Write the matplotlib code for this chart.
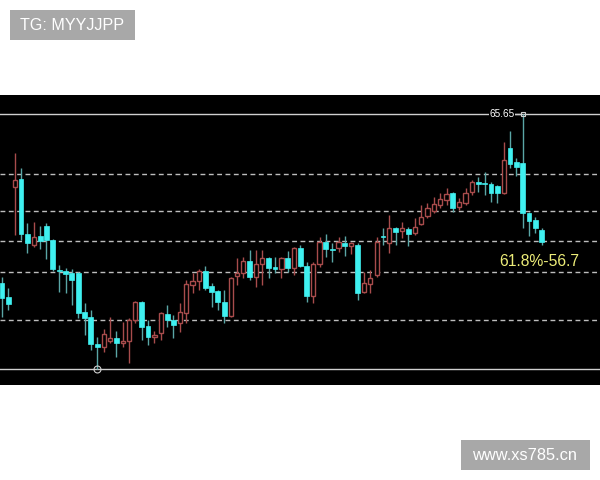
import matplotlib
matplotlib.use("Agg")
import matplotlib.pyplot as plt
from matplotlib.patches import Rectangle
import numpy as np

# ---- data ----
opens = [56.05, 55.25, 61.50, 61.95, 58.83, 58.20, 58.72, 59.28, 58.49, 56.78,
         56.73, 56.61, 56.61, 54.40, 54.11, 52.58, 52.41, 52.75, 52.92, 52.64,
         52.75, 53.94, 54.97, 53.60, 52.98, 53.21, 54.28, 53.94, 53.77, 54.34,
         55.93, 56.16, 56.73, 55.88, 55.59, 54.97, 54.17, 56.44, 56.61, 57.30,
         56.39, 57.13, 57.47, 56.96, 56.84, 57.47, 56.90, 58.04, 57.01, 55.31,
         57.13, 58.38, 57.98, 58.04, 58.32, 58.15, 58.20, 55.53, 55.99, 56.50,
         58.72, 58.32, 59.17, 59.00, 59.11, 58.89, 59.40, 59.85, 60.14, 60.48,
         60.76, 61.16, 60.36, 60.59, 61.21, 61.78, 61.73, 61.67, 61.56, 61.16,
         63.72, 62.92, 62.86, 60.02, 59.63, 59.06]
highs = [56.39, 55.76, 63.43, 62.58, 59.45, 59.51, 59.28, 59.45, 58.55, 57.07,
         56.90, 56.84, 56.67, 54.91, 54.51, 52.98, 53.43, 54.11, 53.32, 53.83,
         54.06, 55.02, 55.02, 53.94, 53.32, 54.40, 54.80, 54.23, 54.91, 56.22,
         56.61, 56.84, 57.01, 56.05, 55.65, 55.65, 56.39, 57.47, 57.52, 57.92,
         57.92, 57.92, 57.52, 57.52, 57.52, 57.87, 58.09, 58.20, 57.24, 57.24,
         58.66, 58.83, 58.32, 58.66, 58.72, 58.38, 58.32, 56.67, 56.79, 58.66,
         59.17, 59.91, 59.23, 59.51, 59.23, 59.74, 60.48, 60.59, 60.93, 61.16,
         61.44, 61.21, 60.87, 61.44, 61.90, 62.07, 62.35, 61.78, 61.62, 64.06,
         64.68, 63.15, 65.65, 60.08, 59.80, 59.17]
lows = [54.12, 54.51, 58.77, 58.49, 57.75, 58.09, 57.98, 57.41, 56.73, 55.53,
        55.48, 54.80, 54.06, 53.09, 52.24, 51.17, 52.13, 52.64, 51.84, 52.41,
        51.50, 53.77, 52.81, 52.52, 52.64, 52.81, 53.55, 52.92, 53.26, 53.77,
        55.48, 55.65, 55.65, 54.68, 54.51, 53.77, 54.11, 55.93, 56.33, 56.22,
        55.82, 55.93, 56.33, 56.61, 56.33, 56.67, 56.50, 56.96, 54.97, 54.91,
        56.96, 57.52, 57.24, 57.81, 57.58, 57.69, 55.09, 55.48, 55.48, 56.39,
        58.20, 57.75, 58.20, 58.60, 58.15, 58.77, 59.34, 59.74, 60.02, 60.31,
        60.48, 60.08, 60.19, 60.48, 61.04, 61.21, 61.04, 60.65, 60.59, 61.10,
        62.58, 62.12, 59.17, 58.72, 58.89, 58.20]
closes = [55.20, 54.85, 61.90, 58.83, 58.32, 58.66, 58.43, 58.49, 56.84, 56.73,
          56.56, 56.22, 54.34, 54.06, 52.58, 52.41, 53.15, 52.92, 52.64, 52.75,
          53.94, 54.97, 53.55, 52.98, 53.09, 54.34, 53.94, 53.66, 54.40, 55.99,
          56.16, 56.73, 55.76, 55.53, 54.97, 54.17, 56.33, 56.61, 57.30, 56.39,
          57.13, 57.47, 56.90, 56.84, 57.47, 56.90, 58.04, 57.01, 55.31, 57.13,
          58.38, 57.98, 57.92, 58.38, 58.15, 58.32, 55.48, 56.05, 56.33, 58.38,
          58.66, 59.17, 58.94, 59.17, 58.83, 59.23, 59.80, 60.31, 60.53, 60.82,
          61.10, 60.31, 60.65, 61.16, 61.78, 61.67, 61.67, 61.16, 61.16, 63.04,
          62.81, 62.64, 60.02, 59.57, 59.17, 58.38]

swing_high = 65.65
swing_low = 51.17
fib_ratios = [0.0, 0.236, 0.382, 0.5, 0.618, 0.809, 1.0]
fib_label = "61.8%-56.7"
high_label = "65.65"

# ---- figure ----
W, H = 600, 480
fig = plt.figure(figsize=(6, 4.8), dpi=100, facecolor="white")
ax = fig.add_axes([0, (H - 385) / H, 1, 290 / H])
ax.set_facecolor("black")
for s in ax.spines.values():
    s.set_visible(False)
ax.set_xticks([])
ax.set_yticks([])

n = len(opens)
x = np.arange(n)
ax.set_xlim(-0.315, 94.17)
ax.set_ylim(50.26, 66.73)

# fib lines
rng = swing_high - swing_low
for r in fib_ratios:
    lvl = swing_high - r * rng
    if r in (0.0, 1.0):
        ax.axhline(lvl, color="#cfcfcf", lw=1.0, zorder=1)
    else:
        ax.axhline(lvl, color="#bdbdbd", lw=1.0, ls=(0, (3.5, 2.5)), zorder=1)

up_col = "#a84c4c"
dn_col = "#3ff0f0"
dn_wick = "#5aa6a6"
bw = 0.76
for i in range(n):
    o, h, l, c = opens[i], highs[i], lows[i], closes[i]
    up = c >= o
    ax.vlines(x[i], l, h, color=up_col if up else dn_wick, lw=1.0, zorder=2)
    bot = min(o, c)
    ht = max(abs(c - o), 0.06)
    if up:
        ax.bar(x[i], ht, bottom=bot, width=bw - 0.1, facecolor="black",
               edgecolor=up_col, linewidth=1.0, zorder=3)
    else:
        ax.bar(x[i], ht, bottom=bot, width=bw, facecolor=dn_col,
               edgecolor=dn_col, linewidth=0.5, zorder=3)

# high / low markers
ih = int(np.argmax(highs))
il = int(np.argmin(lows))
ax.plot([x[ih]], [highs[ih]], marker="s", ms=3.5, mfc="none", mec="#cfcfcf", mew=0.8, zorder=5)
ax.plot([x[il]], [lows[il]], marker="o", ms=5, mfc="none", mec="#cfcfcf", mew=0.8, zorder=5)
ax.plot([x[ih] - 1.2, x[ih] - 0.3], [highs[ih]] * 2, color="#cfcfcf", lw=1.0, zorder=5)
ax.text(x[ih] - 1.3, highs[ih], high_label, color="white", fontsize=7.2,
        ha="right", va="center", family=["Liberation Sans", "DejaVu Sans"],
        bbox=dict(facecolor="black", edgecolor="none", pad=0.3), zorder=6)

fig.text(499 / W, 1 - 262 / H, fib_label, color="#ecec78", fontsize=11.3,
         ha="left", va="center", family=["Liberation Sans", "DejaVu Sans"])

# watermarks
fig.patches.append(Rectangle((10 / W, 1 - 40 / H), 125 / W, 30 / H,
                             transform=fig.transFigure, facecolor="#a8a8a8",
                             edgecolor="none"))
fig.text(20 / W, 1 - 25 / H, "TG: MYYJJPP", color="white", fontsize=11.6,
         ha="left", va="center", family=["Liberation Sans", "DejaVu Sans"])
fig.patches.append(Rectangle((461 / W, 1 - 470 / H), 129 / W, 30 / H,
                             transform=fig.transFigure, facecolor="#a8a8a8",
                             edgecolor="none"))
fig.text(472 / W, 1 - 455 / H, "www.xs785.cn", color="white", fontsize=11.8,
         ha="left", va="center", family=["Liberation Sans", "DejaVu Sans"])

fig.savefig("out.png", dpi=100, facecolor="white")
